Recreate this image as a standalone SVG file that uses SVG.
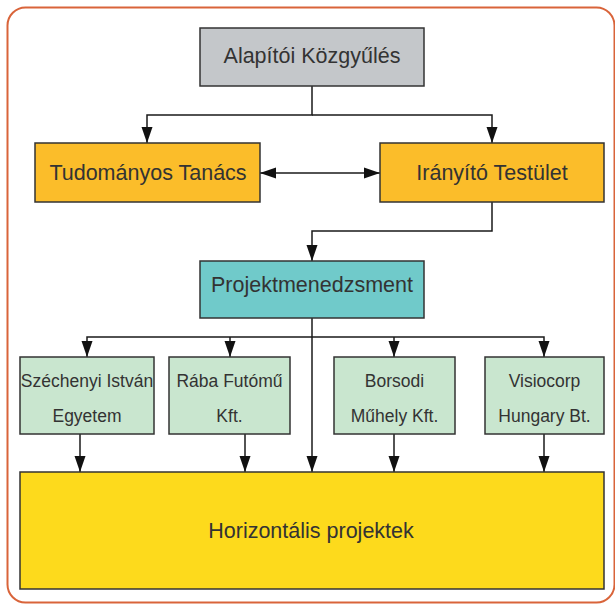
<svg xmlns="http://www.w3.org/2000/svg" width="615" height="605" viewBox="0 0 615 605">
<style>
.box{stroke:#333;stroke-width:1.5}
.t{font-family:"Liberation Sans",Arial,sans-serif;fill:#333;text-anchor:middle}
.big{font-size:21.5px}
.small{font-size:17.5px}
.c{fill:none;stroke:#1a1a1a;stroke-width:1.5}
</style>
<defs>
<marker id="ah" viewBox="0 0 16 12" refX="16" refY="6" markerWidth="16" markerHeight="12" markerUnits="userSpaceOnUse" orient="auto-start-reverse">
<path d="M0,0.5 L16,6 L0,11.5 z" fill="#111"/>
</marker>
</defs>
<rect x="7.5" y="7.5" width="607" height="595" rx="18" fill="#fff" stroke="#d9643a" stroke-width="2"/>
<g id="connectors">
<path class="c" d="M312,86 V115 H147 V143" marker-end="url(#ah)"/>
<path class="c" d="M312,115 H492 V143" marker-end="url(#ah)"/>
<path class="c" d="M260,173 H380" marker-start="url(#ah)" marker-end="url(#ah)"/>
<path class="c" d="M492,202 V231 H312 V261" marker-end="url(#ah)"/>
<path class="c" d="M312,337 H87 V357" marker-end="url(#ah)"/>
<path class="c" d="M312,337 H544 V357" marker-end="url(#ah)"/>
<path class="c" d="M230,337 V357" marker-end="url(#ah)"/>
<path class="c" d="M394,337 V357" marker-end="url(#ah)"/>
<path class="c" d="M312,318 V472" marker-end="url(#ah)"/>
<path class="c" d="M80,434 V472" marker-end="url(#ah)"/>
<path class="c" d="M245,434 V472" marker-end="url(#ah)"/>
<path class="c" d="M394,434 V472" marker-end="url(#ah)"/>
<path class="c" d="M544,434 V472" marker-end="url(#ah)"/>
</g>
<g id="alapitoi">
<rect class="box" x="200" y="28" width="224" height="58" fill="#c4c7ca"/>
<text class="t big" x="312" y="63">Alapítói Közgyűlés</text>
</g>
<g id="tudomanyos">
<rect class="box" x="35" y="143" width="225" height="59" fill="#fbbd2a"/>
<text class="t big" x="148" y="180">Tudományos Tanács</text>
</g>
<g id="iranyito">
<rect class="box" x="380" y="143" width="224" height="59" fill="#fbbd2a"/>
<text class="t big" x="492" y="180">Irányító Testület</text>
</g>
<g id="projekt">
<rect class="box" x="200" y="261" width="224" height="57" fill="#70caca"/>
<text class="t big" x="312" y="292">Projektmenedzsment</text>
</g>
<g id="szechenyi">
<rect class="box" x="20" y="357" width="134" height="77" fill="#c9e6cf"/>
<text class="t small" x="87" y="387">Széchenyi István</text>
<text class="t small" x="87" y="422">Egyetem</text>
</g>
<g id="raba">
<rect class="box" x="169" y="357" width="121" height="77" fill="#c9e6cf"/>
<text class="t small" x="229.5" y="387">Rába Futómű</text>
<text class="t small" x="229.5" y="422">Kft.</text>
</g>
<g id="borsodi">
<rect class="box" x="334" y="357" width="121" height="77" fill="#c9e6cf"/>
<text class="t small" x="394.5" y="387">Borsodi</text>
<text class="t small" x="394.5" y="422">Műhely Kft.</text>
</g>
<g id="visiocorp">
<rect class="box" x="485" y="357" width="119" height="77" fill="#c9e6cf"/>
<text class="t small" x="544.5" y="387">Visiocorp</text>
<text class="t small" x="544.5" y="422">Hungary Bt.</text>
</g>
<g id="horizontalis">
<rect class="box" x="20" y="472" width="584" height="117" fill="#fdda1c"/>
<text class="t big" x="311" y="538">Horizontális projektek</text>
</g>
</svg>
